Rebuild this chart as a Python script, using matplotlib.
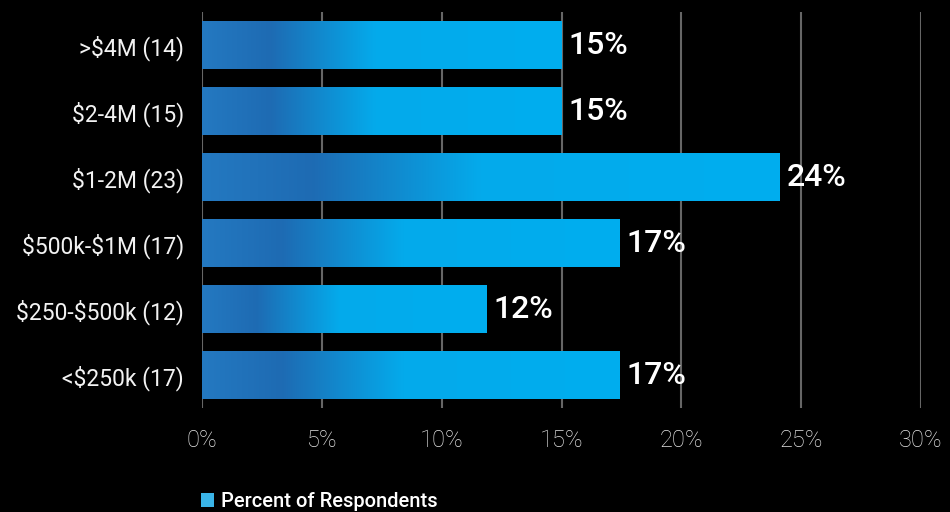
import numpy as np
import matplotlib
matplotlib.use('Agg')
from matplotlib import pyplot as plt
from matplotlib.colors import LinearSegmentedColormap

categories = ['>$4M (14)', '$2-4M (15)', '$1-2M (23)', '$500k-$1M (17)',
              '$250-$500k (12)', '<$250k (17)']
percent = [15.0, 15.0, 24.1, 17.4, 11.85, 17.4]
value_labels = ['15%', '15%', '24%', '17%', '12%', '17%']
x_ticks = [0, 5, 10, 15, 20, 25, 30]
x_tick_labels = ['0%', '5%', '10%', '15%', '20%', '25%', '30%']
series_name = 'Percent of Respondents'

plt.rcParams['font.family'] = ['Roboto', 'DejaVu Sans']
plt.rcParams['text.parse_math'] = False

fig = plt.figure(figsize=(9.5, 5.12), dpi=100, facecolor='black')
ax = fig.add_axes([202 / 950, 1 - 408 / 512, (921 - 202) / 950, 396 / 512])
ax.set_facecolor('black')

y = np.arange(len(categories))
bars = ax.barh(y, percent, height=0.727, color='#3ab4e8', label=series_name, zorder=2)

# left-to-right gradient inside each bar
cmap = LinearSegmentedColormap.from_list(
    'bar_grad', [(0.0, '#2479c1'), (0.19, '#1e6bb3'), (0.48, '#04aaeb'), (1.0, '#00aeef')])
grad = np.linspace(0, 1, 256).reshape(1, -1)
for bar in bars:
    x0, y0 = bar.get_x(), bar.get_y()
    w, h = bar.get_width(), bar.get_height()
    im = ax.imshow(grad, cmap=cmap, aspect='auto', extent=(x0, x0 + w, y0 + h, y0),
                   zorder=3, interpolation='bilinear')
    im.set_clip_path(bar)

for yi, v, lab in zip(y, percent, value_labels):
    ax.text(v + 0.3, yi, lab, color='white', fontsize=23, fontweight='medium',
            va='center', ha='left', zorder=4)

ax.set_xlim(0, 30)
ax.set_ylim(len(categories) - 0.5, -0.5)
ax.set_xticks(x_ticks)
ax.set_xticklabels(x_tick_labels)
ax.set_yticks(y)
ax.set_yticklabels(categories)
ax.tick_params(axis='y', length=0, pad=13, labelsize=16.5, labelcolor='#f2f2f2')
ax.tick_params(axis='x', length=0, pad=15, labelsize=17, labelcolor='#e6e6e6')
for t in ax.get_xticklabels():
    t.set_fontweight('light')
ax.grid(axis='x', color='#666666', linewidth=1.5, zorder=0)
ax.set_axisbelow(True)
for s in ax.spines.values():
    s.set_visible(False)

leg = fig.legend(handles=[bars], labels=[series_name], loc='lower left',
                 bbox_to_anchor=(201 / 950, 1 / 512), frameon=False, fontsize=14.5,
                 handlelength=0.65, handleheight=0.65, handletextpad=0.35,
                 borderpad=0, borderaxespad=0)
for t in leg.get_texts():
    t.set_color('white')
    t.set_fontweight('medium')

fig.savefig('out.png', dpi=100, facecolor='black')
